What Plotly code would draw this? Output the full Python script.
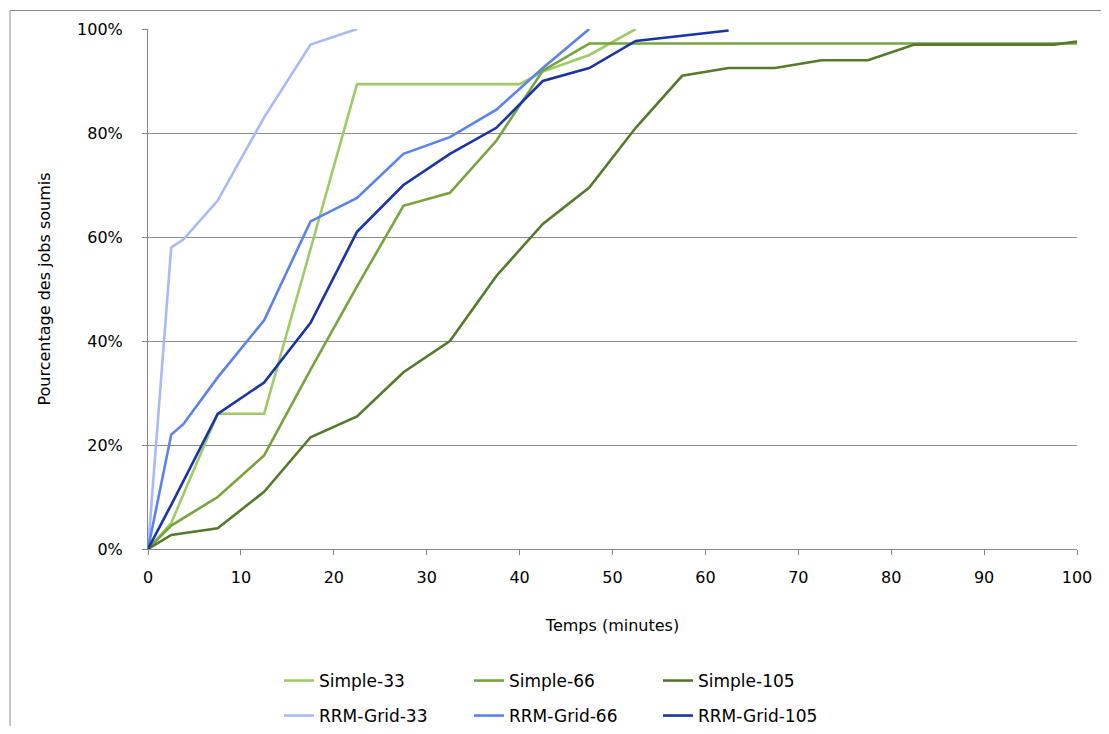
import plotly.graph_objects as go

# ---- data (minutes, % of jobs submitted) ----
simple33_t = [0, 2.5, 7.5, 12.5, 22.5, 40, 42.5, 47.5, 52.5]
simple33_p = [0, 5, 26, 26, 89.4, 89.4, 91.8, 95, 100]

simple66_t = [0, 2.5, 7.5, 12.5, 17.5, 22.5, 27.5, 32.5, 37.5, 42.5, 47.5, 100]
simple66_p = [0, 4.5, 10, 18, 34.5, 50.5, 66, 68.5, 78.5, 92, 97.2, 97.2]

simple105_t = [0, 2.5, 7.5, 12.5, 17.5, 22.5, 27.5, 32.5, 37.5, 42.5, 47.5, 52.5,
               57.5, 62.5, 67.5, 72.5, 77.5, 82.5, 87.5, 92.5, 97.5, 100]
simple105_p = [0, 2.7, 4, 11, 21.5, 25.5, 34, 40, 52.5, 62.5, 69.5, 81,
               91, 92.5, 92.5, 94, 94, 97, 97, 97, 97, 97.6]

rrm33_t = [0, 2.5, 3.8, 7.5, 12.5, 17.5, 22.5]
rrm33_p = [0, 58, 59.5, 67, 83, 97, 100]

rrm66_t = [0, 2.5, 3.8, 7.5, 12.5, 17.5, 22.5, 27.5, 32.5, 37.5, 42.5, 47.5]
rrm66_p = [0, 22, 24, 33, 44, 63, 67.5, 76, 79.2, 84.5, 92.5, 100]

rrm105_t = [0, 2.5, 7.5, 12.5, 17.5, 22.5, 27.5, 32.5, 37.5, 42.5, 47.5, 52.5, 57.5, 62.5]
rrm105_p = [0, 8.5, 26, 32, 43.5, 61, 70, 76, 81, 90, 92.5, 97.7, 98.7, 99.7]

series = [
    ("Simple-33", simple33_t, simple33_p, "#9ecb66"),
    ("Simple-66", simple66_t, simple66_p, "#77a43c"),
    ("Simple-105", simple105_t, simple105_p, "#557a2c"),
    ("RRM-Grid-33", rrm33_t, rrm33_p, "#aabaf7"),
    ("RRM-Grid-66", rrm66_t, rrm66_p, "#5c82ee"),
    ("RRM-Grid-105", rrm105_t, rrm105_p, "#1734a8"),
]

x_ticks = list(range(0, 101, 10))
y_ticks = list(range(0, 101, 20))

# ---- layout geometry (pixels, page has an 8px body margin) ----
OFF = 8
W, H = 1109 - OFF, 734 - 2 * OFF
PL, PR, PT, PB = 148, 1077, 29, 549          # plot area in page pixels
L, T = PL - OFF, PT - OFF
R = W - (PR - OFF)
B = H - (PB - OFF)
PW, PH = PR - PL, PB - PT


def px_x(px):
    return (px - PL) / PW


def px_y(py):
    return (PB - py) / PH


FONT = "DejaVu Sans"

fig = go.Figure()
legend_pos = [(279, 681), (469, 681), (658, 681), (279, 716), (469, 716), (658, 716)]
layout_legends = {}
for i, (name, t, p, col) in enumerate(series):
    lg = "legend" if i == 0 else f"legend{i + 1}"
    fig.add_trace(go.Scatter(
        x=t, y=p, name=name, mode="lines",
        line=dict(color=col, width=2.6),
        legend=lg,
    ))
    lx, ly = legend_pos[i]
    layout_legends[lg] = dict(
        x=px_x(lx), y=px_y(ly), xanchor="left", yanchor="middle",
        orientation="h", bgcolor="rgba(0,0,0,0)", borderwidth=0,
        font=dict(family=FONT, size=17, color="#000000"),
        itemwidth=30, tracegroupgap=0,
    )

fig.update_layout(
    width=W, height=H,
    margin=dict(l=L, r=R, t=T, b=B, autoexpand=False),
    paper_bgcolor="white", plot_bgcolor="white",
    font=dict(family=FONT, size=16, color="#000000"),
    showlegend=True,
    **layout_legends,
    xaxis=dict(
        range=[0, 100], tickvals=x_ticks, ticktext=[str(v) for v in x_ticks],
        showgrid=False, zeroline=False, showline=True, linecolor="#868686", linewidth=1,
        ticks="outside", ticklen=5, tickcolor="#868686", ticklabelstandoff=9,
        tickfont=dict(family=FONT, size=16),
        title=dict(text="Temps (minutes)", font=dict(family=FONT, size=16), standoff=33),
    ),
    yaxis=dict(
        range=[0, 100], tickvals=y_ticks, ticktext=[f"{v}%" for v in y_ticks],
        showgrid=True, gridcolor="#8c8c8c", gridwidth=1,
        zeroline=False, showline=True, linecolor="#868686", linewidth=1,
        ticks="outside", ticklen=5, tickcolor="#868686", ticklabelstandoff=16,
        tickfont=dict(family=FONT, size=16),
        title=dict(text="Pourcentage des jobs soumis", font=dict(family=FONT, size=16), standoff=22),
    ),
    shapes=[
        dict(type="line", xref="paper", yref="paper",
             x0=px_x(10), x1=px_x(10), y0=px_y(734), y1=px_y(10.5),
             line=dict(color="#8a8a8a", width=1)),
        dict(type="line", xref="paper", yref="paper",
             x0=px_x(10), x1=px_x(1108), y0=px_y(10.5), y1=px_y(10.5),
             line=dict(color="#8a8a8a", width=1)),
    ],
)

fig.write_html("out.html")
